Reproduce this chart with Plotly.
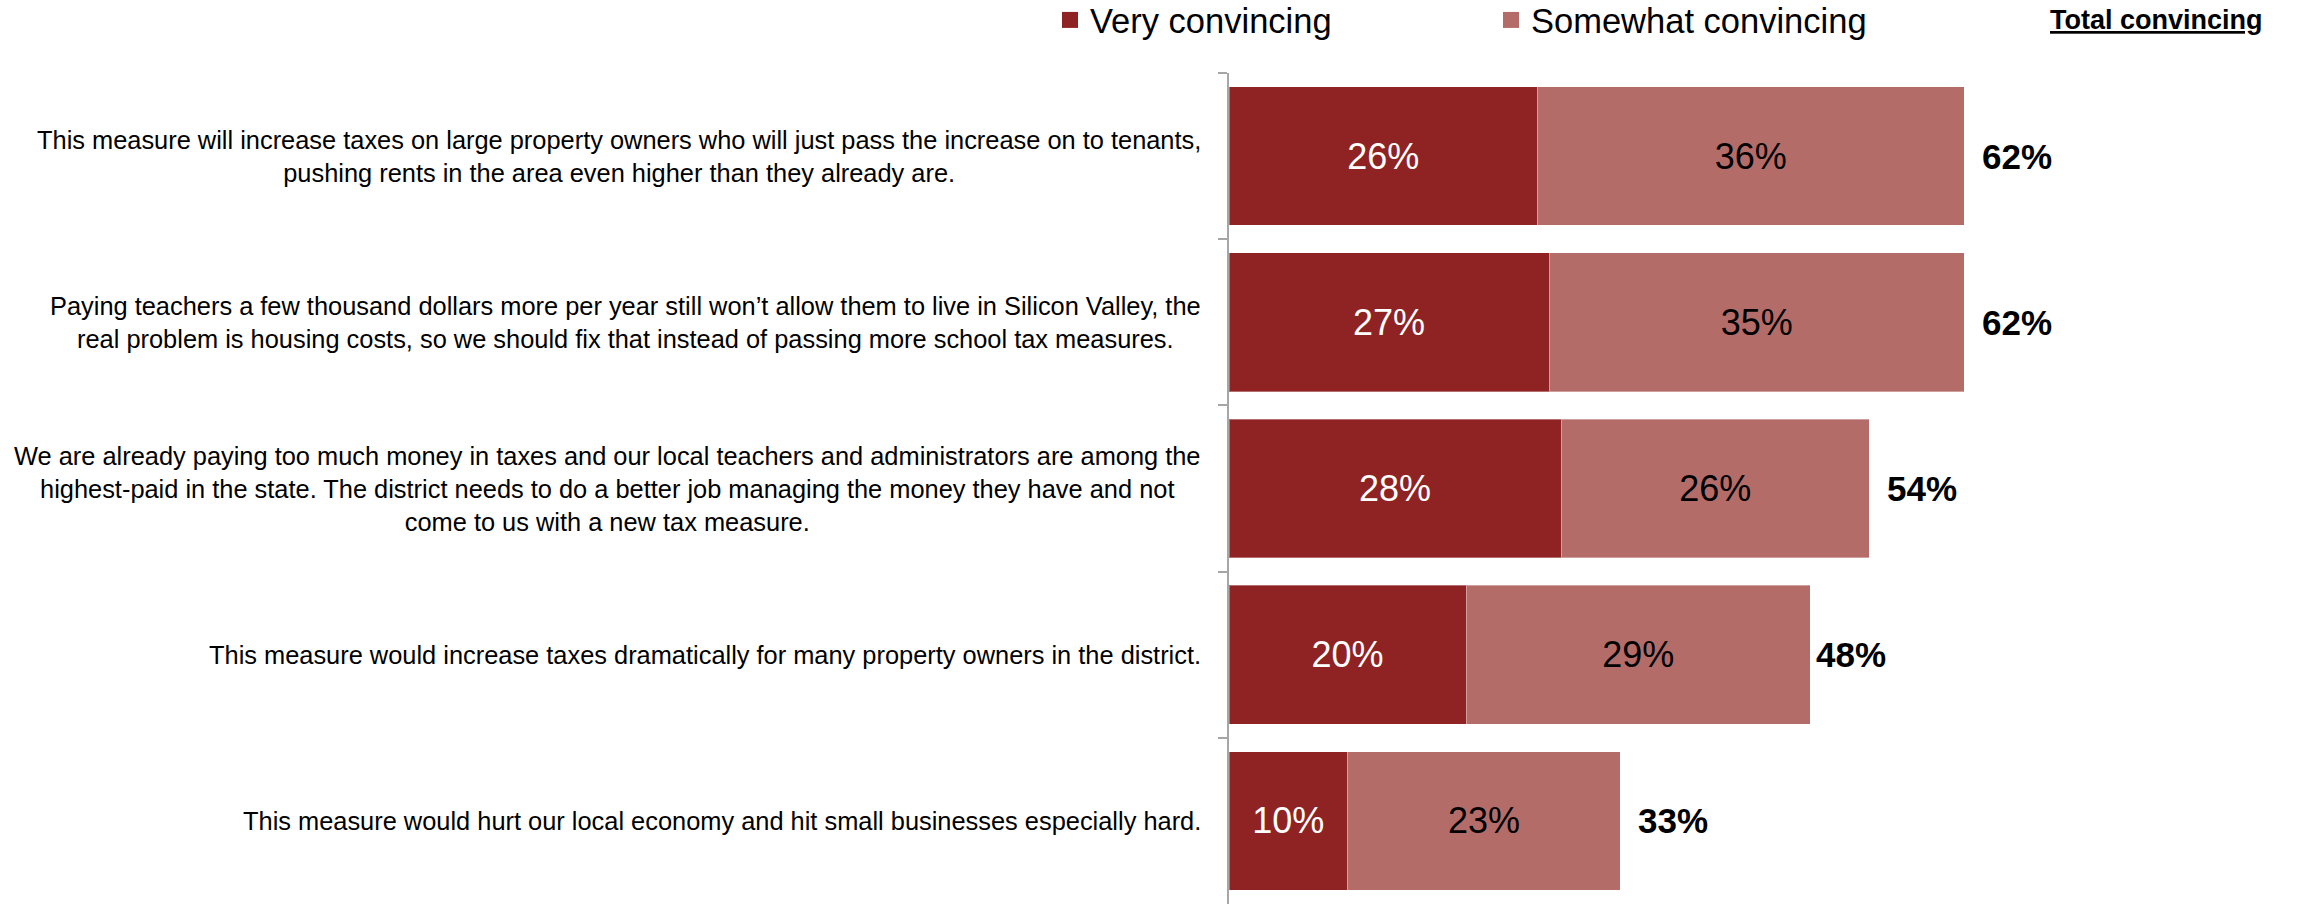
import plotly.graph_objects as go

categories = [
    "This measure will increase taxes on large property owners who will just pass the increase on to tenants,<br>pushing rents in the area even higher than they already are.",
    "Paying teachers a few thousand dollars more per year still won\u2019t allow them to live in Silicon Valley, the<br>real problem is housing costs, so we should fix that instead of passing more school tax measures.",
    "We are already paying too much money in taxes and our local teachers and administrators are among the<br>highest-paid in the state. The district needs to do a better job managing the money they have and not<br>come to us with a new tax measure.",
    "This measure would increase taxes dramatically for many property owners in the district.",
    "This measure would hurt our local economy and hit small businesses especially hard.",
]
very = [26, 27, 28, 20, 10]
somewhat = [36, 35, 26, 29, 23]
total = [62, 62, 54, 48, 33]
series_names = ["Very convincing", "Somewhat convincing"]

DARK = "rgb(143,35,35)"
LIGHT = "rgb(180,108,105)"
FONT = "Liberation Sans, Arial"

W, H = 2305, 904
L, R, T, B = 1229, 15, 73, 0
PW = W - L - R
PH = H - T - B
px_per_pct = 11.86
xmax = PW / px_per_pct

fig = go.Figure()
for vals, name, col, tcol in [(very, series_names[0], DARK, "white"),
                              (somewhat, series_names[1], LIGHT, "black")]:
    fig.add_trace(go.Bar(
        y=categories, x=vals, orientation="h", name=name, showlegend=False,
        marker=dict(color=col, line=dict(width=1, color="rgba(255,255,255,0.35)")),
        text=[f"{v}%" for v in vals], textposition="inside", insidetextanchor="middle",
        textfont=dict(color=tcol, size=36, family=FONT),
    ))
# legend entries with larger square swatches
for name, col in [(series_names[0], DARK), (series_names[1], LIGHT)]:
    fig.add_trace(go.Scatter(
        x=[None], y=[None], mode="markers", name=name,
        marker=dict(symbol="square", size=18, color=col),
    ))

annotations = []
for c, t in zip(categories, total):
    annotations.append(dict(
        x=t, y=c, xref="x", yref="y", text=f"<b>{t}%</b>", showarrow=False,
        xanchor="left", xshift=16, font=dict(size=35, color="black", family=FONT),
    ))
    annotations.append(dict(
        x=0, y=c, xref="x", yref="y", text=c, showarrow=False,
        xanchor="right", xshift=-26, align="center",
        font=dict(size=25.4, color="black", family=FONT),
    ))
annotations.append(dict(
    x=(2265 - L) / PW, y=1 + (T - 20) / PH, xref="paper", yref="paper",
    text="<b><u>Total convincing</u></b>", showarrow=False,
    xanchor="right", yanchor="middle", font=dict(size=27, color="black", family=FONT),
))

fig.update_layout(
    width=W, height=H,
    margin=dict(l=L, r=R, t=T, b=B, autoexpand=False),
    barmode="stack", bargap=0.165,
    plot_bgcolor="white", paper_bgcolor="white",
    font=dict(family=FONT, color="black"),
    showlegend=True,
    legend=dict(
        orientation="h", traceorder="normal",
        xref="container", yref="container",
        x=1050 / W, xanchor="left",
        y=1 - 20 / H, yanchor="middle",
        font=dict(size=34.5, family=FONT),
        entrywidth=396, entrywidthmode="pixels",
        itemwidth=30, itemsizing="trace",
    ),
    xaxis=dict(visible=False, range=[0, xmax]),
    yaxis=dict(
        autorange="reversed", showticklabels=False, showgrid=False,
        showline=True, linecolor="#A6A6A6", linewidth=1.5,
        ticks="outside", ticklen=9, tickcolor="#A6A6A6", tickwidth=1.5,
        tickson="boundaries", zeroline=False,
    ),
    annotations=annotations,
)

fig.write_html("out.html", config={"displayModeBar": False},
               post_script="document.body.style.margin='0';")
